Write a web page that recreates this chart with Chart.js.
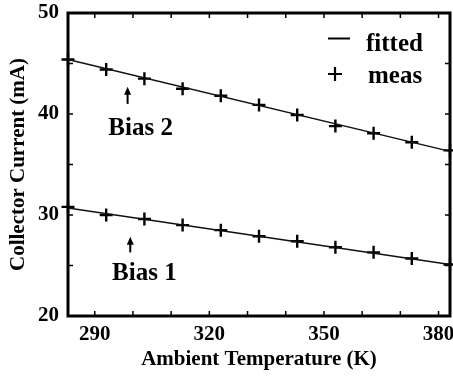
<!DOCTYPE html>
<html>
<head>
<meta charset="utf-8">
<script src="https://cdn.jsdelivr.net/npm/chart.js@4/dist/chart.umd.min.js"></script>
<style>
  html, body { margin:0; padding:0; background:#fff; }
  #wrap { width:453px; height:376px; }
</style>
</head>
<body>
<div id="wrap"><canvas id="c" width="453" height="376"></canvas></div>
<script>
// data
const temps      = [283, 293, 303, 313, 323, 333, 343, 353, 363, 373, 383];
const bias2Meas  = [45.4, 44.4, 43.5, 42.5, 41.8, 40.9, 39.9, 38.8, 38.1, 37.2, 36.4];
const bias1Meas  = [30.8, 30.0, 29.6, 29.0, 28.5, 27.9, 27.4, 26.8, 26.3, 25.7, 25.1];
const fitTemps   = [283, 383];
const bias2Fit   = [45.4, 36.3];
const bias1Fit   = [30.7, 25.1];
const xTicks     = [290, 300, 310, 320, 330, 340, 350, 360, 370, 380];
const xLabels    = [290, 320, 350, 380];
const yLabels    = [20, 30, 40, 50];

// annotation labels (data units)
const notes = [
  { text:'Bias 2', tx:302, ty:37.9, ax:298.6, ay0:41.0, ay1:42.7 },
  { text:'Bias 1', tx:303, ty:23.6, ax:299.3, ay0:26.3, ay1:27.85 },
];

const FONT = "'Liberation Serif', 'Times New Roman', serif";
const pts = (xs, ys) => xs.map((x,i) => ({ x, y: ys[i] }));

function fitSet(label, ys){
  return { label, data: pts(fitTemps, ys), borderColor:'#111', borderWidth:1.5,
           pointRadius:0, showLine:true, fill:false, clip:false };
}
function measSet(label, ys){
  return { label, data: pts(temps, ys), showLine:false, pointStyle:'cross',
           pointRadius:6.5, borderColor:'#000', borderWidth:2.4, clip:false };
}

// frame + inward ticks
const frame = {
  id:'frame',
  beforeDatasetsDraw(chart){
    const {ctx, chartArea:a, scales:{x, y}} = chart;
    ctx.save();
    ctx.strokeStyle = '#000';
    ctx.lineWidth = 3;
    ctx.strokeRect(a.left, a.top, a.right - a.left, a.bottom - a.top);
    ctx.lineWidth = 1.5;
    const L = 5;
    ctx.beginPath();
    xTicks.forEach(v => {
      const px = x.getPixelForValue(v);
      ctx.moveTo(px, a.bottom); ctx.lineTo(px, a.bottom - L);
      ctx.moveTo(px, a.top);    ctx.lineTo(px, a.top + L);
    });
    y.ticks.forEach(t => {
      const py = y.getPixelForValue(t.value);
      ctx.moveTo(a.left, py);  ctx.lineTo(a.left + L, py);
      ctx.moveTo(a.right, py); ctx.lineTo(a.right - L, py);
    });
    ctx.stroke();
    ctx.restore();
  }
};

// bias labels with arrows, legend
const decor = {
  id:'decor',
  afterDatasetsDraw(chart){
    const {ctx, scales:{x, y}} = chart;
    ctx.save();
    ctx.fillStyle = '#000';
    ctx.strokeStyle = '#000';
    ctx.font = `bold 25px ${FONT}`;
    ctx.textAlign = 'center';
    ctx.textBaseline = 'alphabetic';
    notes.forEach(n => {
      ctx.fillText(n.text, x.getPixelForValue(n.tx), y.getPixelForValue(n.ty));
      const ax = x.getPixelForValue(n.ax);
      const y0 = y.getPixelForValue(n.ay0), y1 = y.getPixelForValue(n.ay1);
      ctx.lineWidth = 2;
      ctx.beginPath(); ctx.moveTo(ax, y0); ctx.lineTo(ax, y1 + 6); ctx.stroke();
      ctx.beginPath();
      ctx.moveTo(ax, y1); ctx.lineTo(ax - 3.5, y1 + 8); ctx.lineTo(ax + 3.5, y1 + 8);
      ctx.closePath(); ctx.fill();
    });

    // legend
    ctx.textAlign = 'left';
    ctx.lineWidth = 2;
    ctx.beginPath(); ctx.moveTo(328, 38.5); ctx.lineTo(350, 38.5); ctx.stroke();
    ctx.fillText('fitted', 366, 51);
    ctx.lineWidth = 2.2;
    ctx.beginPath();
    ctx.moveTo(328, 74); ctx.lineTo(342, 74);
    ctx.moveTo(335, 67); ctx.lineTo(335, 81);
    ctx.stroke();
    ctx.fillText('meas', 368, 83);
    ctx.restore();
  }
};

new Chart(document.getElementById('c'), {
  type:'scatter',
  data:{ datasets:[
    fitSet('fitted Bias 2', bias2Fit),
    fitSet('fitted Bias 1', bias1Fit),
    measSet('meas Bias 2', bias2Meas),
    measSet('meas Bias 1', bias1Meas),
  ]},
  options:{
    responsive:false, animation:false,
    layout:{ autoPadding:false, padding:{ top:13, right:3, left:0, bottom:0 } },
    plugins:{ legend:{ display:false }, tooltip:{ enabled:false } },
    scales:{
      x:{
        type:'linear', min:283, max:383,
        grid:{ display:false, drawTicks:false }, border:{ display:false },
        afterBuildTicks: s => { s.ticks = xTicks.map(v => ({ value:v })); },
        afterFit: s => { s.height = 60; s.paddingLeft = 0; s.paddingRight = 0; },
        ticks:{ autoSkip:false, maxRotation:0, padding:6, color:'#000',
                font:{ family:FONT, size:21, weight:'bold' },
                callback: v => xLabels.includes(v) ? String(v) : '' },
        title:{ display:true, text:'Ambient Temperature (K)', color:'#000',
                font:{ family:FONT, size:21, weight:'bold' }, padding:{ top:0, bottom:4 } }
      },
      y:{
        min:20, max:50,
        grid:{ display:false, drawTicks:false }, border:{ display:false },
        afterFit: s => { s.width = 68; s.paddingTop = 0; s.paddingBottom = 0; },
        ticks:{ stepSize:5, padding:9, color:'#000',
                font:{ family:FONT, size:21, weight:'bold' },
                callback: v => yLabels.includes(v) ? String(v) : '' },
        title:{ display:true, text:'Collector Current (mA)', color:'#000',
                font:{ family:FONT, size:21, weight:'bold' }, padding:{ top:6, bottom:0 } }
      }
    }
  },
  plugins:[frame, decor]
});
</script>
</body>
</html>
